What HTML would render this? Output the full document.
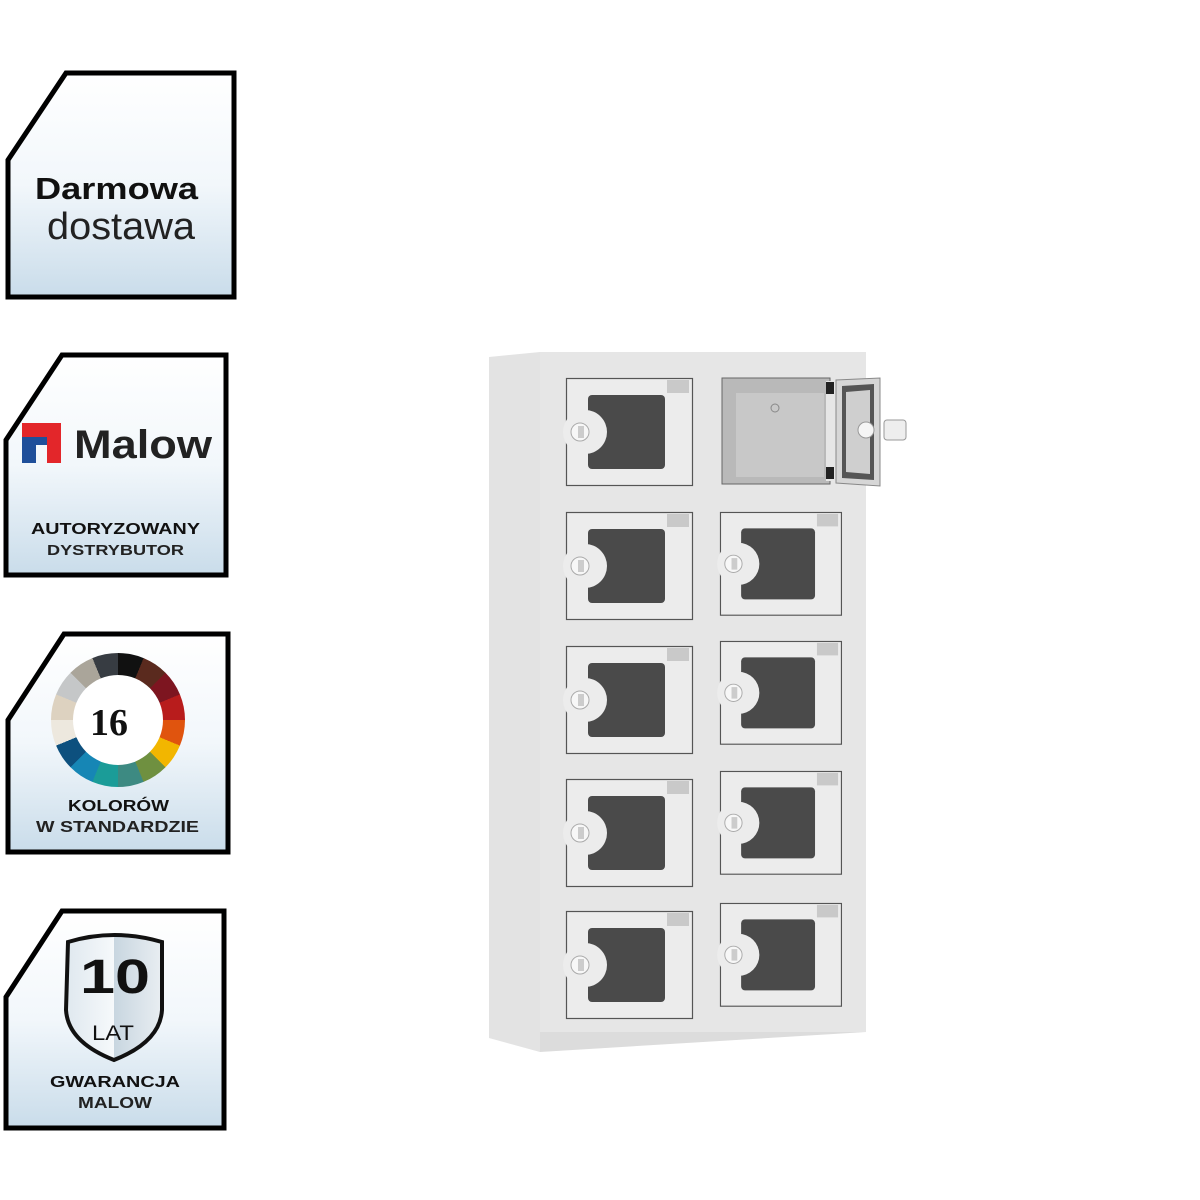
<!DOCTYPE html>
<html><head><meta charset="utf-8"><style>
html,body{margin:0;padding:0;background:#fff;width:1200px;height:1200px;overflow:hidden}
svg{display:block}
text{font-family:"Liberation Sans",sans-serif}
</style></head><body>
<svg width="1200" height="1200" viewBox="0 0 1200 1200" xmlns="http://www.w3.org/2000/svg">
<defs>
<linearGradient id="bg" x1="0" y1="0" x2="0" y2="1">
<stop offset="0" stop-color="#ffffff"/><stop offset="0.5" stop-color="#f2f7fb"/><stop offset="1" stop-color="#c9dcea"/>
</linearGradient>
<linearGradient id="sh" x1="0" y1="0" x2="1" y2="0">
<stop offset="0" stop-color="#dfe8ef"/><stop offset="0.5" stop-color="#f6f9fb"/><stop offset="0.5" stop-color="#c8d6e0"/><stop offset="1" stop-color="#e9eef2"/>
</linearGradient>
<g id="door">
<rect x="0.5" y="0.5" width="126" height="107" fill="#ececec" stroke="#555" stroke-width="1.2"/>
<rect x="101" y="2" width="22" height="13" fill="#c9c9c9"/>
<rect x="22" y="17" width="77" height="74" rx="4" fill="#4a4a4a"/>
<circle cx="19" cy="54" r="22" fill="#ececec"/>
<circle cx="14" cy="54" r="9" fill="#f7f7f7" stroke="#aaa"/>
<rect x="12" y="48" width="6" height="12" fill="#ccc"/>
</g>
</defs>

<!-- badge 1 -->
<path d="M66,73 H234 V297 H8 V160 Z" fill="url(#bg)" stroke="#000" stroke-width="5"/>
<text x="35" y="199" textLength="163" lengthAdjust="spacingAndGlyphs" font-size="31" font-weight="bold" fill="#111">Darmowa</text>
<text x="47" y="239" textLength="148" lengthAdjust="spacingAndGlyphs" font-size="38" fill="#222">dostawa</text>

<!-- badge 2 -->
<path d="M62,355 H226 V575 H6 V440 Z" fill="url(#bg)" stroke="#000" stroke-width="5"/>
<rect x="22" y="423" width="14" height="40" fill="#1f4f9a"/>
<path d="M22,423 H61 V437 H22 Z" fill="#e3262a"/>
<rect x="47" y="430" width="14" height="33" fill="#e3262a"/>
<rect x="36" y="437" width="11" height="8" fill="#1f4f9a"/>
<text x="74" y="458" textLength="138" lengthAdjust="spacingAndGlyphs" font-size="40" font-weight="bold" fill="#222">Malow</text>
<text x="31" y="534" textLength="169" lengthAdjust="spacingAndGlyphs" font-size="16" font-weight="bold" fill="#111">AUTORYZOWANY</text>
<text x="47" y="555" textLength="137" lengthAdjust="spacingAndGlyphs" font-size="15" font-weight="bold" fill="#222">DYSTRYBUTOR</text>

<!-- badge 3 -->
<path d="M64,634 H228 V852 H8 V720 Z" fill="url(#bg)" stroke="#000" stroke-width="5"/>
<foreignObject x="51" y="653" width="134" height="134">
<div xmlns="http://www.w3.org/1999/xhtml" style="width:134px;height:134px;border-radius:50%;background:conic-gradient(#111 0 22.5deg,#5a2a1e 0 45deg,#7d1520 0 67.5deg,#b81c1c 0 90deg,#e0540e 0 112.5deg,#f2b600 0 135deg,#6f9040 0 157.5deg,#3d8a82 0 180deg,#1b9c98 0 202.5deg,#1686b5 0 225deg,#0d507e 0 247.5deg,#ede8de 0 270deg,#ddd2c0 0 292.5deg,#c5c7c8 0 315deg,#aaa59a 0 337.5deg,#373c42 0 360deg);position:relative">
<div style="position:absolute;left:22px;top:22px;width:90px;height:90px;border-radius:50%;background:#fff"></div></div>
</foreignObject>
<text x="109" y="735" text-anchor="middle" font-size="38" font-weight="bold" fill="#111" style="font-family:'Liberation Serif',serif">16</text>
<text x="68" y="811" textLength="101" lengthAdjust="spacingAndGlyphs" font-size="16" font-weight="bold" fill="#111">KOLORÓW</text>
<text x="36" y="832" textLength="163" lengthAdjust="spacingAndGlyphs" font-size="16" font-weight="bold" fill="#222">W STANDARDZIE</text>

<!-- badge 4 -->
<path d="M62,911 H224 V1128 H6 V997 Z" fill="url(#bg)" stroke="#000" stroke-width="5"/>
<path d="M68,942 Q114,928 162,942 V1010 Q160,1042 114,1060 Q68,1042 66,1010 Z" fill="url(#sh)" stroke="#111" stroke-width="4"/>
<text x="80" y="993" textLength="70" lengthAdjust="spacingAndGlyphs" font-size="48" font-weight="bold" fill="#111">10</text>
<text x="92" y="1040" textLength="42" lengthAdjust="spacingAndGlyphs" font-size="21" fill="#111">LAT</text>
<text x="50" y="1087" textLength="130" lengthAdjust="spacingAndGlyphs" font-size="16" font-weight="bold" fill="#111">GWARANCJA</text>
<text x="78" y="1108" textLength="74" lengthAdjust="spacingAndGlyphs" font-size="16" font-weight="bold" fill="#222">MALOW</text>

<!-- cabinet -->
<path d="M489,357 L540,352 V1052 L489,1038 Z" fill="#e3e3e3"/>
<rect x="540" y="352" width="326" height="680" fill="#e6e6e6"/>
<path d="M540,1032 H866 L540,1052 Z" fill="#dcdcdc"/>

<use href="#door" x="566" y="378"/>
<use href="#door" x="566" y="512"/>
<use href="#door" x="566" y="646"/>
<use href="#door" x="566" y="779"/>
<use href="#door" x="566" y="911"/>
<use href="#door" transform="translate(720,512) scale(0.96)"/>
<use href="#door" transform="translate(720,641) scale(0.96)"/>
<use href="#door" transform="translate(720,771) scale(0.96)"/>
<use href="#door" transform="translate(720,903) scale(0.96)"/>

<!-- open compartment -->
<rect x="722" y="378" width="108" height="106" fill="#b9b9b9" stroke="#666"/>
<rect x="736" y="393" width="88" height="84" fill="#c8c8c8"/>
<circle cx="775" cy="408" r="4" fill="none" stroke="#888"/>
<rect x="826" y="381" width="10" height="100" fill="#e6e6e6"/>
<rect x="826" y="382" width="8" height="12" fill="#222"/>
<rect x="826" y="467" width="8" height="12" fill="#222"/>
<path d="M836,380 L880,378 V486 L836,483 Z" fill="#d6d6d6" stroke="#888"/>
<path d="M842,386 L874,384 V480 L842,478 Z" fill="#555"/>
<path d="M846,392 L870,390 V474 L846,472 Z" fill="#cfcfcf"/>
<circle cx="866" cy="430" r="8" fill="#f5f5f5" stroke="#999"/>
<rect x="884" y="420" width="22" height="20" rx="3" fill="#eee" stroke="#999"/>
</svg>
</body></html>
